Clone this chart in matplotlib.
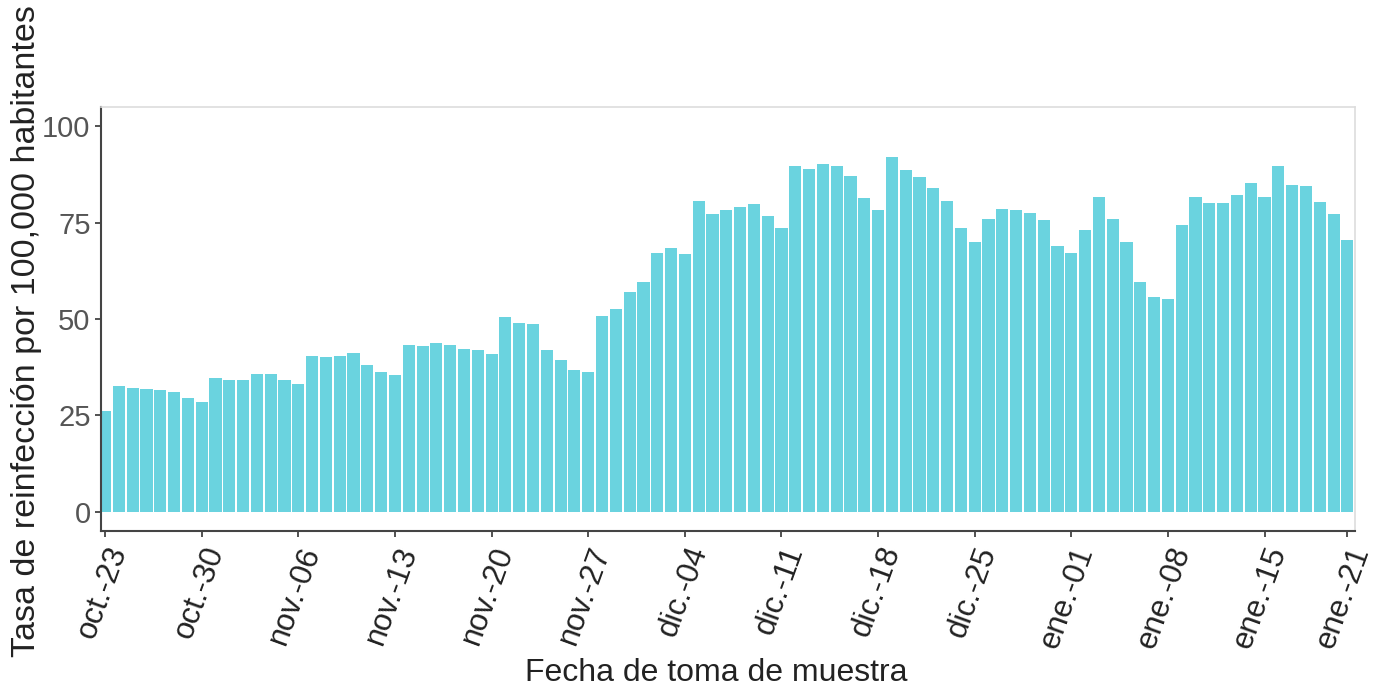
import pandas as pd
import matplotlib
matplotlib.use("Agg")
import matplotlib.pyplot as plt

# daily reinfection rate per 100,000
fechas = pd.date_range("2021-10-23", "2022-01-21", freq="D")
tasa = [26.1, 32.6, 32.1, 31.9, 31.5, 31.0, 29.4, 28.5, 34.8, 34.1,
        34.2, 35.7, 35.7, 34.1, 33.2, 40.5, 40.1, 40.4, 41.3, 38.1,
        36.2, 35.4, 43.4, 43.0, 43.8, 43.2, 42.3, 42.0, 40.9, 50.5,
        49.1, 48.6, 42.0, 39.3, 36.9, 36.3, 50.7, 52.6, 57.1, 59.7,
        67.1, 68.5, 66.8, 80.6, 77.3, 78.2, 79.1, 79.8, 76.7, 73.7,
        89.7, 88.8, 90.3, 89.8, 87.1, 81.3, 78.2, 92.1, 88.6, 86.9,
        84.1, 80.6, 73.7, 70.0, 76.0, 78.6, 78.4, 77.5, 75.6, 69.0,
        67.2, 73.1, 81.7, 76.0, 70.1, 59.5, 55.7, 55.3, 74.5, 81.7,
        80.1, 80.1, 82.3, 85.3, 81.7, 89.7, 84.8, 84.4, 80.3, 77.2,
        70.5]
tick_fechas = ["2021-10-23", "2021-10-30", "2021-11-06", "2021-11-13",
               "2021-11-20", "2021-11-27", "2021-12-04", "2021-12-11",
               "2021-12-18", "2021-12-25", "2022-01-01", "2022-01-08",
               "2022-01-15", "2022-01-21"]
tick_labels = ["oct.-23", "oct.-30", "nov.-06", "nov.-13", "nov.-20",
               "nov.-27", "dic.-04", "dic.-11", "dic.-18", "dic.-25",
               "ene.-01", "ene.-08", "ene.-15", "ene.-21"]

plt.rcParams["font.family"] = ["Liberation Sans", "DejaVu Sans"]

fig = plt.figure(figsize=(13.89, 6.88), dpi=100)
ax = fig.add_axes([0.0727, 0.228, 0.9028, 0.6165])

x = list(range(len(fechas)))
ax.bar(x, tasa, width=0.88, color="#6ad3df", linewidth=0)

pos = [fechas.get_loc(pd.Timestamp(d)) for d in tick_fechas]
ax.set_xticks(pos)
ax.set_xticklabels(tick_labels, rotation=70, ha="right", rotation_mode="anchor",
                   fontsize=22.5, color="#222222")
ax.set_xlim(-0.3, 90.55)
ax.set_ylim(-5, 105)
ax.set_yticks([0, 25, 50, 75, 100])
ax.tick_params(axis="y", labelsize=21, labelcolor="#555555", length=4,
               width=1.2, color="#333333")
ax.tick_params(axis="x", length=4, width=1.2, color="#333333", pad=4)

for s in ["top", "right"]:
    ax.spines[s].set_color("#dddddd")
    ax.spines[s].set_linewidth(1.2)
for s in ["left", "bottom"]:
    ax.spines[s].set_color("#444444")
    ax.spines[s].set_linewidth(1.5)

ax.set_xlabel("Fecha de toma de muestra", fontsize=23, color="#222222")
ax.set_ylabel("Tasa de reinfección por 100,000 habitantes", fontsize=24.5,
              color="#222222")
ax.xaxis.set_label_coords(0.491, -0.30)
ax.yaxis.set_label_coords(-0.047, 0.472)

fig.savefig("out.png", dpi=100)
